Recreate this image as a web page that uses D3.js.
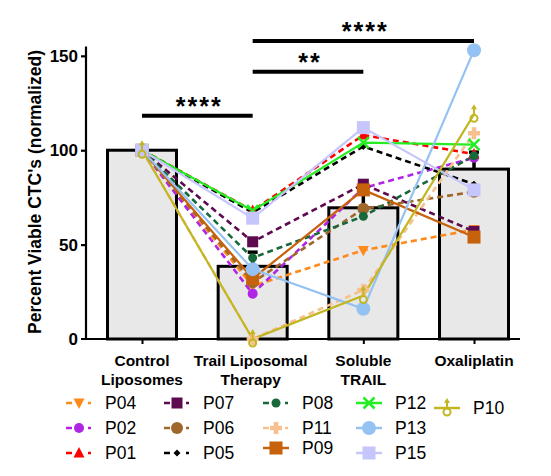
<!DOCTYPE html>
<html><head><meta charset="utf-8">
<script src="https://cdn.jsdelivr.net/npm/d3@7"></script>
<style>
body{margin:0;background:#fff;}
text{font-family:Arial,"Liberation Sans",sans-serif;}
</style></head>
<body><svg id="c" width="551" height="476"></svg>
<script>
const categories = ["Control Liposomes","Trail Liposomal Therapy","Soluble TRAIL","Oxaliplatin"];
const catLines = [["Control","Liposomes"],["Trail Liposomal","Therapy"],["Soluble","TRAIL"],["Oxaliplatin"]];
const barMeans = [100, 38.5, 69.5, 90];
const barErr = [0, 7.5, 9.5, 9];
const yTicks = [0, 50, 100, 150];

const P04 = [100, 28, 47, 58];
const P02 = [100, 24, 80, 96];
const P01 = [100, 68, 108, 98];
const P07 = [100, 51.5, 82, 57];
const P06 = [100, 30, 69, 78];
const P05 = [100, 67, 102, 82];
const P08 = [100, 43, 65, 97];
const P11 = [100, 0, 26, 109];
const P09 = [100, 32, 79, 54];
const P12 = [100, 68, 104, 103];
const P13 = [100, 37, 16, 153];
const P15 = [100, 64, 112, 79];
const P10 = [100, 0, 23, 119];

const sigLabels = ["****", "**", "****"];
const sigPairs = [[0,1],[1,2],[1,3]];
const sigLevels = [118.3, 141.6, 157.8];

const series = [
  {name:"P04", v:P04, color:"#ff8a1c", dash:true, sym:"tri-down", size:11},
  {name:"P02", v:P02, color:"#b024e6", dash:true, sym:"circle", size:5},
  {name:"P01", v:P01, color:"#ff0000", dash:true, sym:"tri-up", size:11},
  {name:"P07", v:P07, color:"#5e0a4e", dash:true, sym:"square", size:11},
  {name:"P06", v:P06, color:"#a0672a", dash:true, sym:"circle", size:6},
  {name:"P05", v:P05, color:"#000000", dash:true, sym:"diamond", size:7},
  {name:"P08", v:P08, color:"#17693a", dash:true, sym:"circle", size:4.5},
  {name:"P11", v:P11, color:"#f7c08e", dash:true, sym:"plus", size:12},
  {name:"P09", v:P09, color:"#c6610c", dash:false, sym:"square", size:13},
  {name:"P12", v:P12, color:"#22ee22", dash:false, sym:"x", size:11},
  {name:"P13", v:P13, color:"#94c2f2", dash:false, sym:"circle", size:7},
  {name:"P15", v:P15, color:"#c6c6fc", dash:false, sym:"square", size:13},
  {name:"P10", v:P10, color:"#c2b622", dash:false, sym:"p10", size:10}
];
const legendCols = [["P04","P02","P01"],["P07","P06","P05"],["P08","P11","P09"],["P12","P13","P15"],["P10"]];

const svg = d3.select("#c");
const x = d3.scalePoint().domain(categories).range([142, 474]);
const y = d3.scaleLinear().domain([0, 155]).range([339, 46.4]);
const barW = 69;

svg.append("g").selectAll("rect").data(categories).join("rect")
  .attr("x", d => x(d) - barW/2)
  .attr("y", (d,i) => y(barMeans[i]))
  .attr("width", barW)
  .attr("height", (d,i) => y(0) - y(barMeans[i]))
  .attr("fill", "#e8e8e8").attr("stroke", "#000").attr("stroke-width", 3);

const eb = svg.append("g");
categories.forEach((c,i) => {
  if (barErr[i] <= 0) return;
  eb.append("line").attr("x1", x(c)).attr("x2", x(c))
    .attr("y1", y(barMeans[i])).attr("y2", y(barMeans[i] + barErr[i]))
    .attr("stroke", "#000").attr("stroke-width", 3.5);
  eb.append("line").attr("x1", x(c) - 5).attr("x2", x(c) + 5)
    .attr("y1", y(barMeans[i] + barErr[i])).attr("y2", y(barMeans[i] + barErr[i]))
    .attr("stroke", "#000").attr("stroke-width", 3.5);
});

const yAxis = d3.axisLeft(y).tickValues(yTicks).tickSize(5).tickPadding(3);
const gy = svg.append("g").attr("transform", "translate(86,0)").call(yAxis);
gy.select(".domain").attr("stroke-width", 2.2).attr("d", `M-5,${y(0)}H0V${y(155)}`);
gy.selectAll(".tick line").attr("stroke-width", 2.2);
gy.selectAll(".tick text").attr("font-size", 17).attr("font-weight", "bold").attr("fill", "#000");
gy.selectAll(".tick").filter(d => d === 0).select("line").remove();

const xAxis = d3.axisBottom(x).tickSize(5).tickFormat("");
const gx = svg.append("g").attr("transform", `translate(0,${y(0)})`).call(xAxis);
gx.select(".domain").attr("stroke-width", 2.2).attr("d", "M86,0H520");
gx.selectAll(".tick line").attr("stroke-width", 2);

categories.forEach((c,i) => {
  const xx = x(c) + (i===1?-2:0);
  const t = svg.append("text").attr("x", xx).attr("y", 366)
    .attr("text-anchor", "middle").attr("font-size", 15.5).attr("font-weight", "bold");
  catLines[i].forEach((ln,j) => t.append("tspan").attr("x", xx).attr("dy", j===0?0:19).text(ln));
});

svg.append("text").attr("transform", "translate(41,192) rotate(-90)")
  .attr("text-anchor", "middle").attr("font-size", 17.5).attr("font-weight", "bold")
  .text("Percent Viable CTC's (normalized)");

function drawSym(g, s, cx, cy) {
  const sz = s.size, c = s.color;
  if (s.sym === "circle") {
    g.append("circle").attr("cx", cx).attr("cy", cy).attr("r", sz).attr("fill", c);
  } else if (s.sym === "square") {
    g.append("rect").attr("x", cx - sz/2).attr("y", cy - sz/2).attr("width", sz).attr("height", sz).attr("fill", c);
  } else if (s.sym === "tri-up") {
    g.append("path").attr("d", `M${cx},${cy-sz*0.55}L${cx+sz/2},${cy+sz*0.4}L${cx-sz/2},${cy+sz*0.4}Z`).attr("fill", c);
  } else if (s.sym === "tri-down") {
    g.append("path").attr("d", `M${cx},${cy+sz*0.55}L${cx+sz/2},${cy-sz*0.4}L${cx-sz/2},${cy-sz*0.4}Z`).attr("fill", c);
  } else if (s.sym === "diamond") {
    g.append("path").attr("d", `M${cx},${cy-sz/2}L${cx+sz/2},${cy}L${cx},${cy+sz/2}L${cx-sz/2},${cy}Z`).attr("fill", c);
  } else if (s.sym === "plus") {
    g.append("path").attr("d", `M${cx-sz/2},${cy}H${cx+sz/2}M${cx},${cy-sz/2}V${cy+sz/2}`).attr("stroke", c).attr("stroke-width", 4.5);
  } else if (s.sym === "x") {
    g.append("path").attr("d", `M${cx-sz/2},${cy-sz/2}L${cx+sz/2},${cy+sz/2}M${cx+sz/2},${cy-sz/2}L${cx-sz/2},${cy+sz/2}`).attr("stroke", c).attr("stroke-width", 2.5);
  } else if (s.sym === "p10") {
    g.append("circle").attr("cx", cx).attr("cy", cy + 4).attr("r", 3.5).attr("fill", "none").attr("stroke", c).attr("stroke-width", 2);
    g.append("path").attr("d", `M${cx},${cy+0.5}V${cy-7}`).attr("stroke", c).attr("stroke-width", 2);
    g.append("path").attr("d", `M${cx},${cy-10}L${cx+3},${cy-5}L${cx-3},${cy-5}Z`).attr("fill", c);
  }
}

const line = d3.line().x((d,i) => x(categories[i])).y(d => y(d));
const gl = svg.append("g");
series.forEach(s => {
  gl.append("path").attr("d", line(s.v)).attr("fill", "none")
    .attr("stroke", s.color).attr("stroke-width", s.dash ? 2.6 : 2.2)
    .attr("stroke-dasharray", s.dash ? "6,4" : null);
});
series.forEach(s => {
  const g = gl.append("g");
  s.v.forEach((d,i) => drawSym(g, s, x(categories[i]), y(d)));
});

const gs = svg.append("g");
sigPairs.forEach((p,i) => {
  const yy = y(sigLevels[i]);
  gs.append("line").attr("x1", x(categories[p[0]])).attr("x2", x(categories[p[1]]))
    .attr("y1", yy).attr("y2", yy).attr("stroke", "#000").attr("stroke-width", 4);
  gs.append("text").attr("x", (x(categories[p[0]]) + x(categories[p[1]]))/2 + 2).attr("y", yy - 1)
    .attr("text-anchor", "middle").attr("font-size", 25).attr("font-weight", "bold")
    .attr("letter-spacing", 2).text(sigLabels[i]);
});

const colX = [79, 177, 276, 369, 447];
const rowY = [403, 428, 453];
const byName = Object.fromEntries(series.map(s => [s.name, s]));
legendCols.forEach((col, ci) => {
  col.forEach((nm, ri) => {
    const s = byName[nm];
    let cy = rowY[ri];
    if (nm === "P09") cy -= 5;
    if (nm === "P10") cy = 408;
    const cx = colX[ci];
    const g = svg.append("g");
    if (s.dash) {
      g.append("line").attr("x1", cx-13).attr("x2", cx-7).attr("y1", cy).attr("y2", cy).attr("stroke", s.color).attr("stroke-width", 2.5);
      g.append("line").attr("x1", cx+9).attr("x2", cx+12).attr("y1", cy).attr("y2", cy).attr("stroke", s.color).attr("stroke-width", 2.5);
    } else {
      g.append("line").attr("x1", cx-13).attr("x2", cx+13).attr("y1", cy).attr("y2", cy).attr("stroke", s.color).attr("stroke-width", 2.5);
    }
    drawSym(g, s, cx, cy);
    svg.append("text").attr("x", cx + 26).attr("y", cy + 6).attr("font-size", 17.5).text(nm);
  });
});
</script></body></html>
